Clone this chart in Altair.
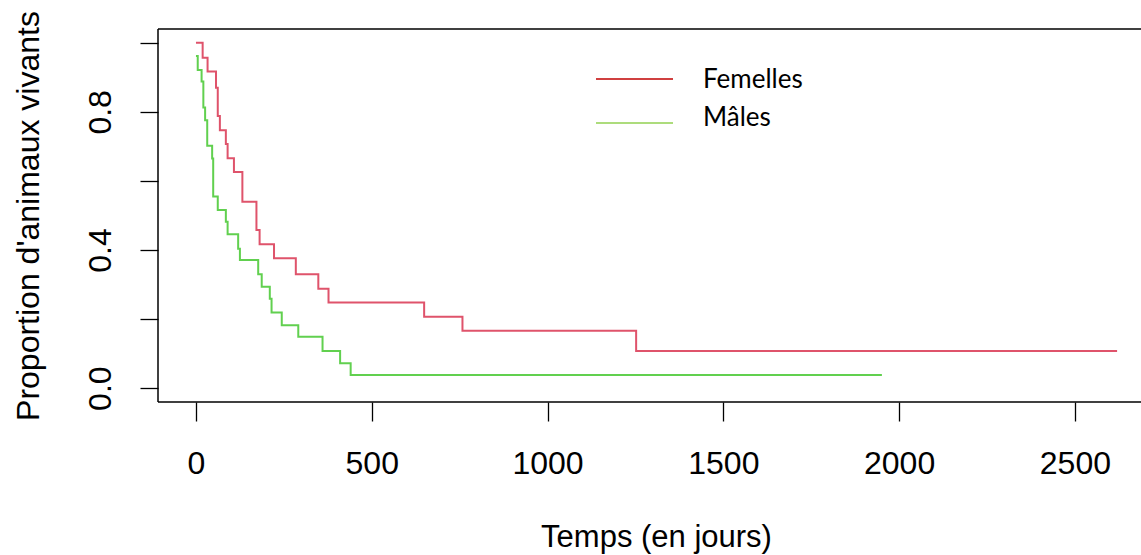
import altair as alt
import pandas as pd

# Kaplan-Meier steps
fem_t = [0, 19, 33, 57, 62, 68, 85, 90, 108, 132, 172, 181, 222, 284, 348, 377, 649, 758, 1252, 2620]
fem_s = [1.0, 0.957, 0.917, 0.870, 0.788, 0.747, 0.707, 0.666, 0.626, 0.540, 0.458, 0.417,
         0.376, 0.330, 0.288, 0.248, 0.207, 0.166, 0.108, 0.108]
male_t = [0, 5, 16, 21, 26, 32, 46, 49, 62, 85, 90, 120, 125, 177, 187, 210, 215, 244, 291,
          360, 410, 440, 1951]
male_s = [0.962, 0.921, 0.888, 0.813, 0.776, 0.702, 0.665, 0.555, 0.516, 0.482, 0.446, 0.404,
          0.371, 0.330, 0.294, 0.259, 0.219, 0.182, 0.149, 0.108, 0.072, 0.0385, 0.0385]

groups = ["Femelles", "Mâles"]
line_colors = ["#DF536B", "#61D04F"]
legend_colors = ["#C00000", "#92D050"]
x_ticks = [0, 500, 1000, 1500, 2000, 2500]
y_ticks = [0.0, 0.2, 0.4, 0.6, 0.8, 1.0]

W, H = 983, 373

df = pd.concat([
    pd.DataFrame({"t": fem_t, "s": fem_s, "g": groups[0], "o": range(len(fem_t))}),
    pd.DataFrame({"t": male_t, "s": male_s, "g": groups[1], "o": range(len(male_t))}),
])

FONT = "Liberation Sans"

x = alt.X("t:Q", scale=alt.Scale(domain=[-108, 2688], nice=False, zero=False),
          axis=alt.Axis(values=x_ticks, format="d", title="Temps (en jours)", grid=False,
                        domain=False, tickSize=19, tickColor="black", tickWidth=1.3,
                        labelFont=FONT, labelFontSize=32, labelColor="black", labelPadding=27,
                        labelFlush=False, labelOverlap=False,
                        titleFont=FONT, titleFontSize=31, titleFontWeight="normal",
                        titleColor="black", titleX=498, titleY=144, titleAlign="center",
                        titleBaseline="alphabetic"))
y = alt.Y("s:Q", scale=alt.Scale(domain=[-0.04, 1.04], nice=False, zero=False),
          axis=alt.Axis(values=y_ticks, title="Proportion d'animaux vivants", grid=False,
                        domain=False, tickSize=18, tickColor="black", tickWidth=1.3,
                        labelExpr="indexof(['0.0','0.4','0.8'], format(datum.value, '.1f')) >= 0 ? format(datum.value, '.1f') : ''",
                        labelFont=FONT, labelFontSize=32, labelColor="black", labelAngle=270,
                        labelAlign="center", labelBaseline="alphabetic", labelPadding=30,
                        labelFlush=False, labelOverlap=False,
                        titleFont=FONT, titleFontSize=32, titleFontWeight="normal",
                        titleColor="black", titleAngle=270, titleX=-130,
                        titleBaseline="middle", titleAlign="center"))

lines = alt.Chart(df).mark_line(interpolate="step-after", strokeWidth=2).encode(
    x=x, y=y, order="o:Q",
    color=alt.Color("g:N", scale=alt.Scale(domain=groups, range=line_colors), legend=None),
)

# plot frame (left, top, bottom; the right side lies at the window edge)
frame_df = pd.DataFrame({"x1": [0, 0, 0], "x2": [0, W + 20, W + 20], "y1": [0, 0, H], "y2": [H, 0, H]})
frame = alt.Chart(frame_df).mark_rule(color="black", strokeWidth=1.5).encode(
    x=alt.X("x1:Q", scale=None), x2="x2:Q",
    y=alt.Y("y1:Q", scale=None), y2="y2:Q",
)

leg_df = pd.DataFrame({"g": groups, "c": legend_colors, "row": [0, 1]})
leg_lines = alt.Chart(leg_df).mark_rule(strokeWidth=1.3).encode(
    x=alt.value(438), x2=alt.value(515),
    y=alt.Y("row:Q", scale=alt.Scale(domain=[0, 1], range=[50, 94]), axis=None),
    color=alt.Color("c:N", scale=None),
)
leg_text = alt.Chart(leg_df).mark_text(align="left", baseline="alphabetic", font="Lato",
                                       fontSize=26, color="black").encode(
    x=alt.value(545),
    y=alt.Y("row:Q", scale=alt.Scale(domain=[0, 1], range=[59, 97]), axis=None),
    text="g:N",
)

chart = alt.layer(lines, frame, leg_lines, leg_text).resolve_scale(
    y="independent", x="independent"
).properties(
    width=W, height=H,
    autosize=alt.AutoSizeParams(type="none"),
    padding={"left": 158, "top": 29, "right": 0, "bottom": 153},
    background="white",
).configure_view(stroke=None)

chart.save("out.html", embed_options={"renderer": "svg", "actions": False})
